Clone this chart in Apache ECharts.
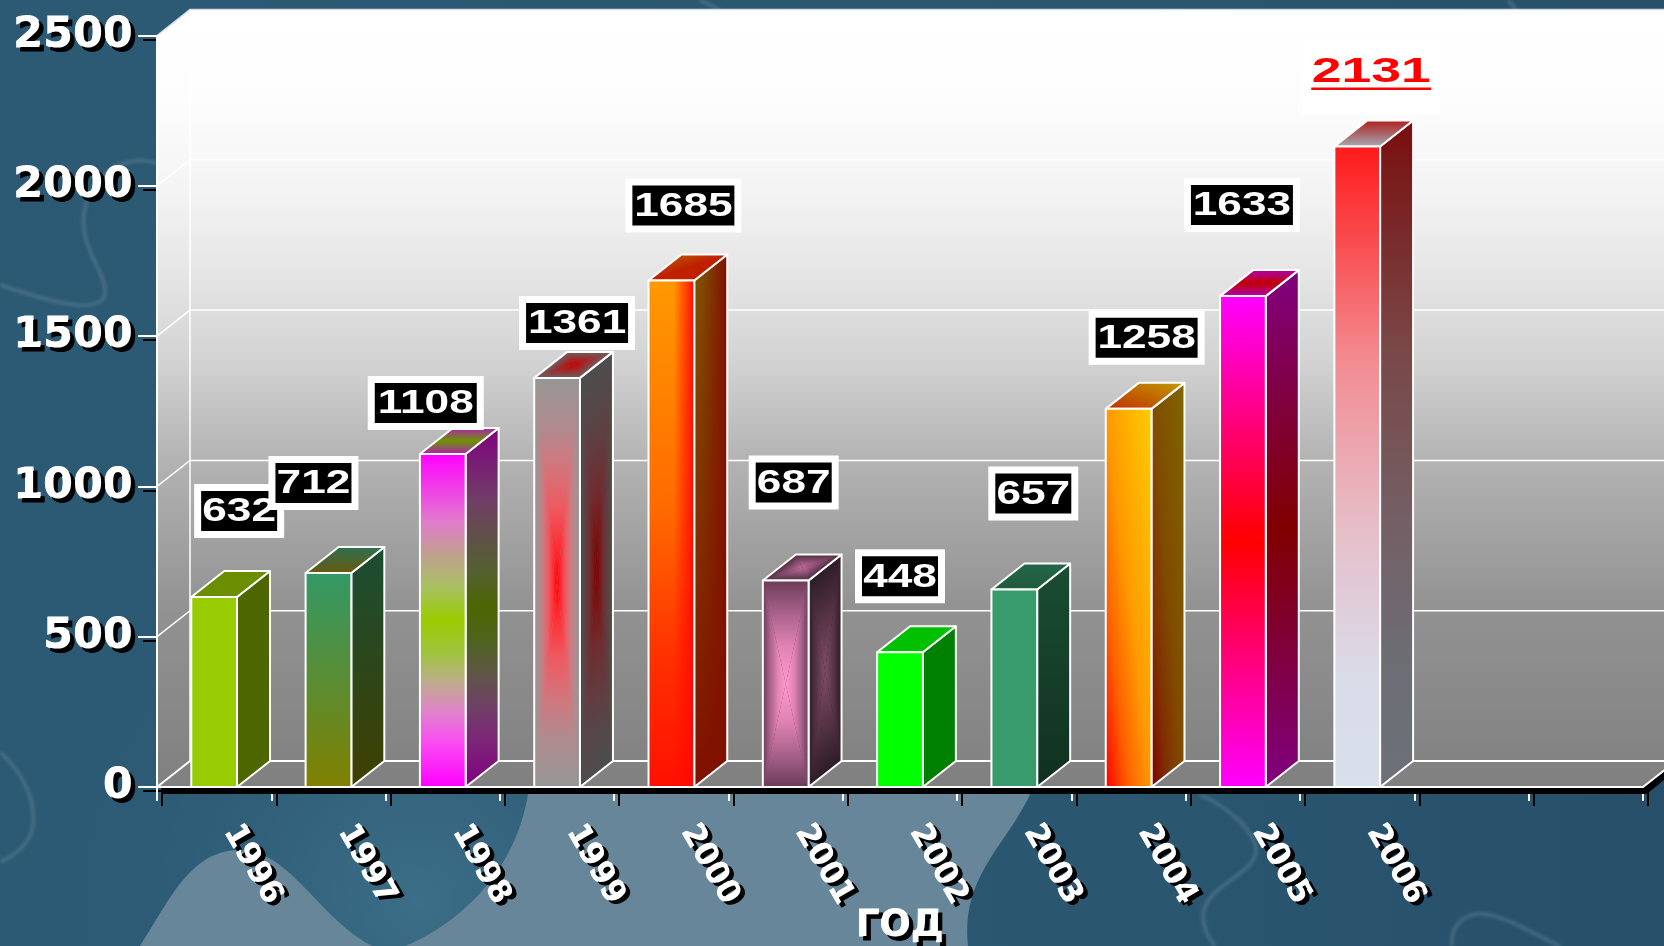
<!DOCTYPE html>
<html>
<head>
<meta charset="utf-8">
<title>ГОД</title>
<style>
html,body{margin:0;padding:0;width:1664px;height:946px;overflow:hidden;background:#2a5670;}
#bg{position:absolute;left:0;top:0;}
#main{position:absolute;left:0;top:0;width:1664px;height:946px;}
</style>
<script src="https://cdn.jsdelivr.net/npm/echarts@6/dist/echarts.min.js"></script>
</head>
<body>

<!-- slide background -->
<svg id="bg" width="1664" height="946" xmlns="http://www.w3.org/2000/svg">
<defs>
<linearGradient id="base" x1="0" y1="0" x2="1" y2="0">
<stop offset="0" stop-color="#2c5973"/>
<stop offset="0.7" stop-color="#2a5670"/>
<stop offset="1" stop-color="#274f6a"/>
</linearGradient>
<radialGradient id="glow" gradientUnits="userSpaceOnUse" cx="420" cy="900" r="420">
<stop offset="0" stop-color="#427690" stop-opacity="0.75"/>
<stop offset="1" stop-color="#2c5973" stop-opacity="0"/>
</radialGradient>
<filter id="soft"><feGaussianBlur stdDeviation="1.8"/></filter>
</defs>
<rect width="1664" height="946" fill="url(#base)"/>
<rect width="1664" height="946" fill="url(#glow)"/>
<path d="M140 946C170 900 190 850 240 850C290 850 320 920 372 946Z" fill="#68869a"/>
<path d="M405 946C445 930 520 880 530 780L1036 780C1015 840 960 870 968 946Z" fill="#68869a"/>
<g fill="none" stroke="#7d9dae" stroke-opacity="0.3" stroke-width="4" filter="url(#soft)">
<path d="M157 163C115 150 75 190 85 235C90 262 110 280 104 298C92 312 60 305 0 285"/>
<path d="M0 752C25 775 35 800 33 825C30 845 15 855 0 862"/>
<path d="M1200 795C1225 805 1255 830 1256 850C1256 875 1205 885 1203 915C1203 930 1210 940 1215 946"/>
<path d="M1452 946C1450 925 1465 912 1485 914C1510 918 1535 935 1560 946"/>
<path d="M1508 0L1516 10"/>
<path d="M700 0L720 10"/>
</g>
</svg>

<div id="main"></div>

<script>
// ==============================
// Data
// ==============================

const years = ['1996','1997','1998','1999','2000','2001','2002','2003','2004','2005','2006','',''];

const counts = [632,712,1108,1361,1685,687,448,657,1258,1633,2131];

const yTicks = [0,500,1000,1500,2000,2500];

// label box offset from the top of its bar
const labelDx = [25,-15,-17,20,12,8,0,19,18,-1,14];
const labelDy = [-86,-90,-51,-55,-75,-98,-76,-96,-71,-91,-74];


// ==============================
// Bar colours
// ==============================

function v(){
    const colors = Array.prototype.slice.call(arguments);
    return { kind:'v', stops: colors.map((c,i)=>[i/(colors.length-1),c]) };
}

const barFills = [
    { front:'#99cc00', side:'#4d6600', top:'#6b8e00' },
    { front:v('#339966','#808000'), side:v('#1a4d33','#404000'), top:v('#2e7050','#665a10') },
    { front:{kind:'v',stops:[[0,'#ff00ff'],[0.2,'#e27ace'],[0.3,'#c0a090'],[0.4,'#a8c060'],[0.5,'#99cc00'],[0.6,'#a0c440'],[0.68,'#bcae88'],[0.77,'#dd85c8'],[0.86,'#f850f0'],[1,'#ff00ff']]},
      side:{kind:'v',stops:[[0,'#800080'],[0.2,'#713d67'],[0.3,'#605048'],[0.4,'#546030'],[0.5,'#4d6600'],[0.6,'#506220'],[0.68,'#5e5744'],[0.77,'#6e4264'],[0.86,'#7c2878'],[1,'#800080']]},
      top:v('#b020b0','#6b9400','#b020b0') },
    { front:{kind:'path',stops:[[0,'#ff0000'],[0.15,'#ff2a30'],[0.37,'#ee5a62'],[0.6,'#cc7a80'],[0.76,'#b08a8e'],[1,'#969696']]},
      side:{kind:'path',stops:[[0,'#800000'],[0.37,'#702c30'],[0.6,'#623c3f'],[0.76,'#574547'],[1,'#4d4d4d']]},
      top:{kind:'path',stops:[[0,'#c80000'],[1,'#6b6060']]} },
    { front:{kind:'over',base:{kind:'v',stops:[[0,'#ff9900'],[0.45,'#ff6a00'],[0.75,'#ff3000'],[1,'#ff1000']]},from:'rgba(255,10,0,0)',to:'rgba(255,10,0,1)',start:0.55},
      side:{kind:'over',base:{kind:'v',stops:[[0,'#805000'],[0.45,'#803400'],[1,'#801000']]},from:'rgba(128,16,0,0)',to:'rgba(128,16,0,1)',start:0.2},
      top:{kind:'down',a:'#b87000',b:'#c02000'} },
    { front:{kind:'path',stops:[[0,'#ff99cc'],[0.35,'#e184b4'],[0.7,'#a66089'],[1,'#6b3c58']]},
      side:{kind:'path',stops:[[0,'#804d66'],[1,'#2e1c28']]},
      top:{kind:'path',stops:[[0,'#c06c9c'],[1,'#4d2e40']]} },
    { front:'#00ff00', side:'#008000', top:'#00c000' },
    { front:'#389b6d', side:v('#1a4d33','#103020'), top:v('#24664a','#1f5a3e') },
    { front:{kind:'up',stops:[[0,'#ff0000'],[0.25,'#ff6000'],[0.5,'#ff9900'],[1,'#ffcc00']]},
      side:{kind:'up',stops:[[0,'#800000'],[0.25,'#803000'],[0.5,'#804c00'],[1,'#806600']]},
      top:{kind:'up',stops:[[0,'#c03000'],[1,'#c09a00']]} },
    { front:v('#ff00ff','#ff0000','#ff00ff'), side:v('#800080','#800000','#800080'), top:v('#b000b0','#c00000','#b000b0') },
    { front:{kind:'v',stops:[[0,'#ff1a1a'],[0.34,'#f28d93'],[0.61,'#e5c0cb'],[0.82,'#d9dbe7'],[1,'#d8e0ec']]},
      side:{kind:'v',stops:[[0,'#7a0d0d'],[0.34,'#794747'],[0.61,'#736066'],[0.82,'#6c6e74'],[1,'#6c7078']]},
      top:v('#b02020','#a5a8b0') }
];

const wallStops = [
    {offset:0,color:'#ffffff'},
    {offset:0.12,color:'#fdfdfd'},
    {offset:0.23,color:'#f4f4f4'},
    {offset:0.335,color:'#e6e6e6'},
    {offset:0.45,color:'#d3d3d3'},
    {offset:0.58,color:'#b3b3b3'},
    {offset:0.77,color:'#929292'},
    {offset:1,color:'#808080'}
];


// ==============================
// 3D helpers
// ==============================

const depthX = 33;
const depthY = -26;
const barShare = 0.4;

function bbox(points){
    const xs = points.map(p=>p[0]);
    const ys = points.map(p=>p[1]);
    const x = Math.min.apply(null,xs);
    const y = Math.min.apply(null,ys);
    return { x:x, y:y, w:Math.max.apply(null,xs)-x, h:Math.max.apply(null,ys)-y };
}

function gradient(x0,y0,x1,y1,stops){
    return new echarts.graphic.LinearGradient(x0,y0,x1,y1,stops,true);
}

function toStops(list){
    return list.map(s=>({offset:s[0],color:s[1]}));
}

// rectangle style gradient: one triangle per edge, fading from the middle
function pathFaces(points,spec){
    const cx = points.reduce((s,p)=>s+p[0],0)/points.length;
    const cy = points.reduce((s,p)=>s+p[1],0)/points.length;
    const stops = toStops(spec.stops);
    const out = [{ type:'polygon', shape:{points:points}, style:{fill:spec.stops[spec.stops.length-1][1]} }];
    points.forEach((p,i)=>{
        const q = points[(i+1)%points.length];
        const ex = q[0]-p[0];
        const ey = q[1]-p[1];
        const t = ((cx-p[0])*ex+(cy-p[1])*ey)/(ex*ex+ey*ey);
        out.push({
            type:'polygon',
            shape:{points:[[cx,cy],p,q]},
            style:{fill:gradient(cx,cy,p[0]+t*ex,p[1]+t*ey,stops)}
        });
    });
    return out;
}

function fillOf(points,spec){
    const b = bbox(points);
    if(spec.kind==='v'){
        return gradient(0,b.y,0,b.y+b.h,toStops(spec.stops));
    }
    const k = 2*b.w*b.h/(b.w*b.w+b.h*b.h);
    if(spec.kind==='down'){
        // top left colour reaches the second colour on the other diagonal
        return gradient(b.x,b.y,b.x+b.h*k,b.y+b.w*k,[{offset:0,color:spec.a},{offset:0.5,color:spec.b},{offset:1,color:spec.b}]);
    }
    if(spec.kind==='up'){
        return gradient(b.x,b.y+b.h,b.x+b.h*k,b.y+b.h-b.w*k,toStops(spec.stops));
    }
    return spec;
}

function face(points,spec){
    const line = { type:'polygon', shape:{points:points}, style:{fill:'none',stroke:'#fff',lineWidth:2,lineJoin:'round'} };
    if(spec.kind==='path'){
        return pathFaces(points,spec).concat([line]);
    }
    if(spec.kind==='over'){
        const b = bbox(points);
        return [
            { type:'polygon', shape:{points:points}, style:{fill:fillOf(points,spec.base)} },
            { type:'polygon', shape:{points:points}, style:{fill:gradient(b.x,0,b.x+b.w,0,[{offset:0,color:spec.from},{offset:spec.start,color:spec.from},{offset:1,color:spec.to}])} },
            line
        ];
    }
    return [{ type:'polygon', shape:{points:points}, style:{fill:fillOf(points,spec)} },line];
}


// ==============================
// Walls and floor
// ==============================

function renderWalls(params,api){
    const left = params.coordSys.x;
    const right = left+params.coordSys.width;
    const y0 = api.coord([0,0])[1];
    const yTop = api.coord([0,yTicks[yTicks.length-1]])[1];
    const wallFill = gradient(0,yTop+depthY,0,y0,wallStops);
    const children = [
        // black shadow under the front edge
        { type:'rect', shape:{x:left+4,y:y0+1,width:right-left,height:6}, style:{fill:'#000'} },
        { type:'polygon', shape:{points:[[right,y0+1],[right+depthX,y0+depthY+1],[right+depthX+5,y0+depthY+5],[right+5,y0+6]]}, style:{fill:'#000'} },
        { type:'polygon', shape:{points:[[left+depthX,yTop+depthY],[right+depthX,yTop+depthY],[right+depthX,y0+depthY],[left+depthX,y0+depthY]]}, style:{fill:wallFill} },
        { type:'polygon', shape:{points:[[left,yTop],[left+depthX,yTop+depthY],[left+depthX,y0+depthY],[left,y0]]}, style:{fill:wallFill} },
        { type:'polygon', shape:{points:[[left,y0],[left+depthX,y0+depthY],[right+depthX,y0+depthY],[right,y0]]}, style:{fill:wallFill} }
    ];
    yTicks.forEach(t=>{
        const y = api.coord([0,t])[1];
        children.push({ type:'polyline', shape:{points:[[left,y],[left+depthX,y+depthY],[right+depthX,y+depthY]]},
            style:{fill:'none',stroke:t===2500?'#d5dde2':'#fff',lineWidth:t===0?2:1.5} });
    });
    children.push({ type:'line', shape:{x1:left+depthX,y1:yTop+depthY,x2:left+depthX,y2:y0+depthY}, style:{stroke:'#fff',lineWidth:1.5} });
    children.push({ type:'line', shape:{x1:left,y1:yTop,x2:left,y2:y0+13}, style:{stroke:'#fff',lineWidth:2} });
    children.push({ type:'line', shape:{x1:right,y1:y0,x2:right+depthX,y2:y0+depthY}, style:{stroke:'#fff',lineWidth:2} });
    children.push({ type:'line', shape:{x1:left,y1:y0,x2:right,y2:y0}, style:{stroke:'#fff',lineWidth:2} });
    return { type:'group', children:children };
}


// ==============================
// Bars
// ==============================

function renderBar(params,api){
    const i = api.value(0);
    const base = api.coord([i,0]);
    const tip = api.coord([i,api.value(1)]);
    const half = api.size([1,0])[0]*barShare/2;
    const l = base[0]-half;
    const r = base[0]+half;
    const fill = barFills[i];
    const side = [[r,tip[1]],[r+depthX,tip[1]+depthY],[r+depthX,base[1]+depthY],[r,base[1]]];
    const top = [[l,tip[1]],[l+depthX,tip[1]+depthY],[r+depthX,tip[1]+depthY],[r,tip[1]]];
    const front = [[l,tip[1]],[r,tip[1]],[r,base[1]],[l,base[1]]];
    return { type:'group', children: face(side,fill.side).concat(face(top,fill.top),face(front,fill.front)) };
}


// ==============================
// Value labels
// ==============================

function renderLabel(params,api){
    const i = api.value(0);
    const val = api.value(1);
    const tip = api.coord([i,val]);
    const text = String(val);
    const cx = tip[0]+labelDx[i];
    const cy = tip[1]+labelDy[i];
    if(val===2131){
        return { type:'group', children:[
            { type:'rect', shape:{x:cx-69,y:cy-36,width:138,height:78}, style:{fill:'#fff'} },
            { type:'text', x:cx, y:cy, scaleX:1.53, style:{text:text,fill:'#ff0000',align:'center',verticalAlign:'middle',font:'bold 35px "Liberation Sans"'} },
            { type:'rect', shape:{x:cx-60,y:cy+15,width:120,height:2.5}, style:{fill:'#ff0000'} }
        ]};
    }
    const w = text.length*23+(text.length===3?7:10);
    return { type:'group', children:[
        { type:'rect', shape:{x:cx-w/2-3.5,y:cy-23.5,width:w+7,height:47}, style:{fill:'#000',stroke:'#fff',lineWidth:7,lineJoin:'miter'} },
        { type:'text', x:cx, y:cy+1, scaleX:1.3, style:{text:text,fill:'#fff',align:'center',verticalAlign:'middle',font:'bold 34px "Liberation Sans"'} }
    ]};
}


// ==============================
// ECharts
// ==============================

var myChart = echarts.init(document.getElementById('main'));

const barData = counts.map((c,i)=>[i,c]);

myChart.setOption({

    animation:false,

    grid:{ left:157, right:21, top:35.5, bottom:159, containLabel:false, outerBoundsMode:'none' },

    xAxis:{
        type:'category',
        data:years,
        name:'ГОД',
        nameLocation:'middle',
        nameMoveOverlap:false,
        nameGap:121,
        nameTextStyle:{
            color:'#fff',
            fontFamily:'DejaVu Sans',
            fontWeight:'bold',
            fontSize:37,
            textBorderColor:'#fff',
            textBorderWidth:0.8,
            textShadowColor:'#000',
            textShadowOffsetX:4,
            textShadowOffsetY:4,
            textShadowBlur:0.1
        },
        axisLine:{ show:false },
        axisTick:{
            show:true,
            length:14,
            lineStyle:{ color:'#fff', width:2, shadowColor:'#000', shadowOffsetX:5, shadowOffsetY:5, shadowBlur:0 }
        },
        axisLabel:{
            interval:0,
            rotate:-60,
            margin:50,
            align:'left',
            verticalAlign:'bottom',
            padding:[0,0,4,0],
            color:'#fff',
            fontFamily:'DejaVu Sans',
            fontWeight:'bold',
            fontSize:31,
            textBorderColor:'#fff',
            textBorderWidth:1,
            textShadowColor:'#000',
            textShadowOffsetX:4,
            textShadowOffsetY:3,
            textShadowBlur:0.1
        }
    },

    yAxis:{
        type:'value',
        min:0,
        max:2500,
        interval:500,
        splitLine:{ show:false },
        axisLine:{ show:false },
        axisTick:{
            show:true,
            length:19,
            lineStyle:{ color:'#fff', width:2, shadowColor:'#000', shadowOffsetX:5, shadowOffsetY:4, shadowBlur:0 }
        },
        axisLabel:{
            margin:24,
            formatter:function(value){ return String(value); },
            color:'#fff',
            fontFamily:'DejaVu Sans',
            fontWeight:'bold',
            fontSize:43,
            textBorderColor:'#fff',
            textBorderWidth:0.8,
            textShadowColor:'#000',
            textShadowOffsetX:4,
            textShadowOffsetY:4,
            textShadowBlur:0.1
        }
    },

    series:[
        { type:'custom', renderItem:renderWalls, data:[[0,0]], clip:false, silent:true, z:2 },
        { type:'custom', renderItem:renderBar, data:barData, clip:false, silent:true, z:3 },
        { type:'custom', renderItem:renderLabel, data:barData, clip:false, silent:true, z:4 }
    ]

});
</script>
</body>
</html>
